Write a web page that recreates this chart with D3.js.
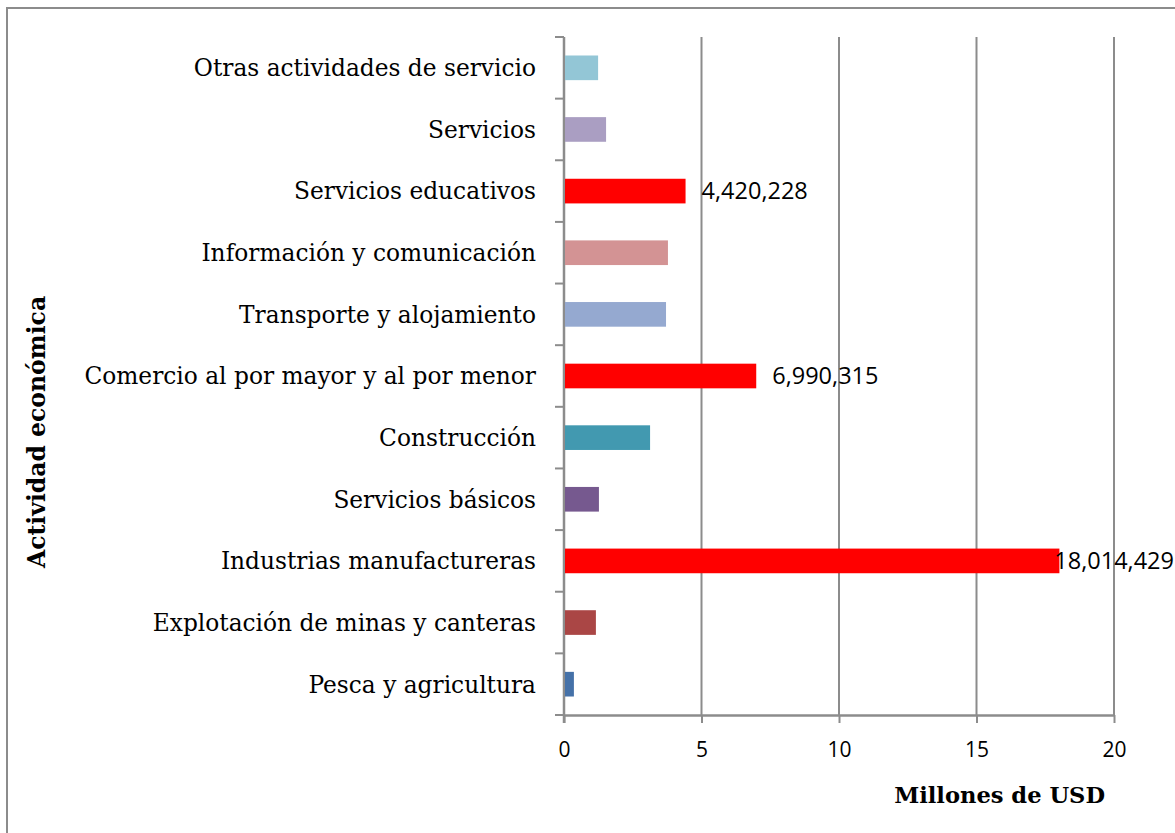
<!DOCTYPE html>
<html>
<head>
<meta charset="utf-8">
<script src="https://cdn.jsdelivr.net/npm/d3@7"></script>
<style>
	body { margin:0; background:#fff; }
	svg text { fill:#000; }
</style>
</head>
<body>
<div id="chart"></div>
<script>
// data, top to bottom as in the picture
var categories	= ["Otras actividades de servicio", "Servicios", "Servicios educativos",
		   "Información y comunicación", "Transporte y alojamiento",
		   "Comercio al por mayor y al por menor", "Construcción", "Servicios básicos",
		   "Industrias manufactureras", "Explotación de minas y canteras", "Pesca y agricultura"];
var values	= [1.24, 1.53, 4.420228, 3.78, 3.71, 6.990315, 3.13, 1.27, 18.014429, 1.16, 0.36];
var labels	= [null, null, "4,420,228", null, null, "6,990,315", null, null, "18,014,429", null, null];
var colors	= ["#93c6d6", "#aa9ec2", "#ff0000", "#d39394", "#95a9d0", "#ff0000",
		   "#4299b0", "#76598f", "#ff0000", "#aa4645", "#4571a8"];
var xTicks	= [0, 5, 10, 15, 20];

var	W	= 1175, H = 833,
	margin	= {top: 37, left: 564, right: 61, bottom: 118},
	serif	= "DejaVu Serif",
	x	= d3.scaleLinear().domain([0, 20]).range([margin.left, W - margin.right]),
	y	= d3.scaleBand().domain(categories).range([margin.top, H - margin.bottom])
			.paddingInner(0.6).paddingOuter(0.3);

var svg = d3.select("#chart").append("svg").attr("width", W).attr("height", H);

svg.append("rect").attr("x", 7).attr("y", 8).attr("width", W + 20).attr("height", H + 20)
	.attr("fill", "#fff").attr("stroke", "#8c8c8c").attr("stroke-width", 2);

// vertical grid lines
svg.append("g").selectAll("line").data(xTicks.slice(1)).enter().append("line")
	.attr("x1", x).attr("x2", x)
	.attr("y1", margin.top).attr("y2", H - margin.bottom)
	.attr("stroke", "#8c8c8c").attr("stroke-width", 2);

// x axis
var gx = svg.append("g").attr("transform", "translate(0," + (H - margin.bottom) + ")")
	.call(d3.axisBottom(x).tickValues(xTicks).tickSize(8).tickPadding(14).tickSizeOuter(0));
gx.select(".domain").attr("stroke", "#8c8c8c").attr("stroke-width", 2.5);
gx.selectAll(".tick line").attr("stroke", "#8c8c8c").attr("stroke-width", 2);
gx.selectAll(".tick text").attr("font-family", "Open Sans").attr("font-size", 21);
gx.selectAll(".tick text").attr("dy", "0.95em");

// y axis, ticks between categories
var step = y.step();
var bounds = d3.range(categories.length + 1).map(function(i) { return margin.top + i * step; });
svg.append("line").attr("x1", x(0)).attr("x2", x(0))
	.attr("y1", margin.top).attr("y2", H - margin.bottom + 8)
	.attr("stroke", "#8c8c8c").attr("stroke-width", 2.5);
svg.append("g").selectAll("line").data(bounds).enter().append("line")
	.attr("x1", x(0) - 9).attr("x2", x(0))
	.attr("y1", function(d) { return d; }).attr("y2", function(d) { return d; })
	.attr("stroke", "#8c8c8c").attr("stroke-width", 2);
svg.append("g").selectAll("text").data(categories).enter().append("text")
	.attr("x", x(0) - 28).attr("y", function(d) { return y(d) + y.bandwidth() / 2; })
	.attr("dy", "0.36em").attr("text-anchor", "end")
	.attr("font-family", serif).attr("font-size", 23.3)
	.text(function(d) { return d; });

// bars
svg.append("g").selectAll("rect").data(categories).enter().append("rect")
	.attr("x", x(0) + 1).attr("y", function(d) { return y(d); })
	.attr("width", function(d, i) { return x(values[i]) - x(0) - 1; })
	.attr("height", y.bandwidth())
	.attr("fill", function(d, i) { return colors[i]; });

// value labels
svg.append("g").selectAll("text").data(categories.filter(function(d, i) { return labels[i]; }))
	.enter().append("text")
	.attr("y", function(d) { return y(d) + y.bandwidth() / 2; })
	.attr("dy", "0.35em")
	.attr("font-family", "Open Sans").attr("font-size", 23.5)
	.text(function(d) { return labels[categories.indexOf(d)]; })
	.attr("x", function(d) {
		var i = categories.indexOf(d), w = this.getComputedTextLength();
		return Math.min(x(values[i]) + 16, W - 1 - w);
	});

// axis titles
svg.append("text").attr("x", 1105).attr("y", 803).attr("text-anchor", "end")
	.attr("font-family", serif).attr("font-weight", "bold").attr("font-size", 22.6)
	.text("Millones de USD");
svg.append("text").attr("transform", "translate(45,432) rotate(-90)").attr("text-anchor", "middle")
	.attr("font-family", serif).attr("font-weight", "bold").attr("font-size", 23.5)
	.text("Actividad económica");
</script>
</body>
</html>
